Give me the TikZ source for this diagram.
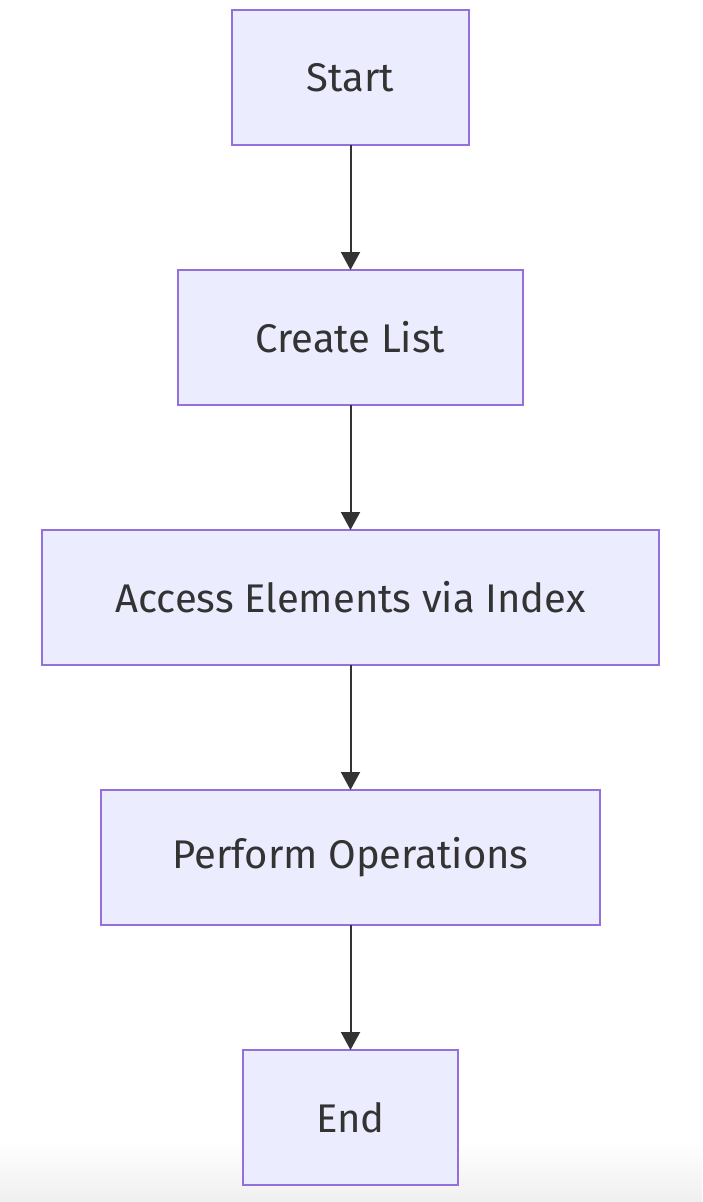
\documentclass[tikz,border=0pt]{standalone}
\usepackage{fontspec}
\setmainfont{Fira Sans}
\usetikzlibrary{arrows.meta,positioning}
\definecolor{boxfill}{HTML}{ECECFF}
\definecolor{boxline}{HTML}{9370DB}
\definecolor{linkcol}{HTML}{333333}

\begin{document}
\begin{tikzpicture}[
  x=1pt, y=1pt,
  font=\fontsize{40}{46}\selectfont,
  >={Triangle[length=18pt, width=19pt]},
  stepbox/.style={rectangle, draw=boxline, fill=boxfill, line width=2pt, outer sep=0pt,
                  minimum height=135pt, align=center, text=linkcol},
  link/.style={->, line width=2pt, draw=linkcol},
]

\useasboundingbox (0,0) rectangle (702,-1202);
% faint shade along the bottom edge
\shade[top color=white, bottom color=black!6] (0,-1140) rectangle (702,-1202);

\node[stepbox, minimum width=237pt, anchor=north] (start) at (350.5,-10) {Start};
\node[stepbox, minimum width=345pt, below=125pt of start]  (create)  {Create List};
\node[stepbox, minimum width=617pt, below=125pt of create] (access)  {Access Elements via Index};
\node[stepbox, minimum width=499pt, below=125pt of access] (perform) {Perform Operations};
\node[stepbox, minimum width=215pt, below=125pt of perform](finish)  {End};

\draw[link] (start) -- (create);
\draw[link] (create) -- (access);
\draw[link] (access) -- (perform);
\draw[link] (perform) -- (finish);

\end{tikzpicture}
\end{document}
